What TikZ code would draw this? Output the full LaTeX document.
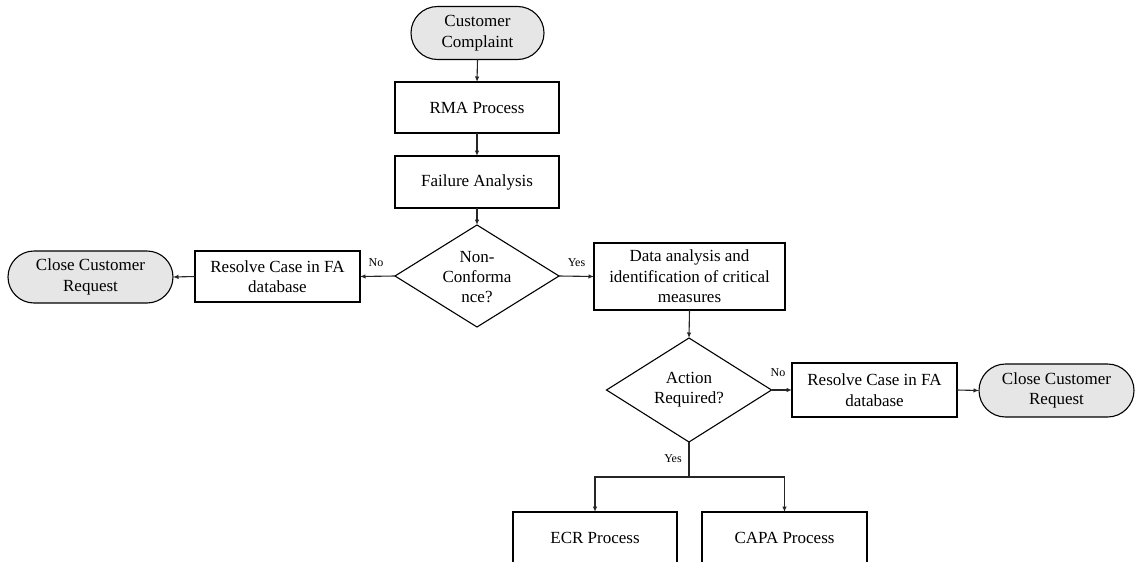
\documentclass[tikz,border=0pt]{standalone}
\usepackage{fontspec}
\setmainfont{Liberation Serif}
\usetikzlibrary{shapes.misc,shapes.geometric,arrows.meta}

\definecolor{termfill}{HTML}{E6E6E6}

\tikzset{
  base/.style={draw=black, line width=1.1pt, inner sep=0pt, outer sep=0pt,
    align=center, font=\fontsize{17}{20.5}\selectfont},
  procbox/.style={base, rectangle},
  terminal/.style={base, rounded rectangle, fill=termfill},
  decision/.style={draw=black, line width=1.1pt, diamond, inner sep=0pt, outer sep=0pt},
  dectext/.style={align=center, inner sep=0pt, font=\fontsize{17}{20}\selectfont},
  arr/.style={draw=black!85, line width=1.1pt, -{Latex[length=5.5pt,width=4.5pt]}},
  plain/.style={draw=black!85, line width=1.1pt},
  lbl/.style={font=\fontsize{12}{14}\selectfont, inner sep=0pt}
}

\begin{document}
\begin{tikzpicture}[x=1pt, y=-1pt]
\useasboundingbox (0,0) rectangle (1135,562);
\clip (0,0) rectangle (1135,562);

% main column
\node[terminal, minimum width=133pt, minimum height=53pt] (start) at (477.5,33) {Customer\\Complaint};
\node[procbox, minimum width=164pt, minimum height=51pt] (rma) at (477,107.5) {RMA Process};
\node[procbox, minimum width=164pt, minimum height=52pt] (fa) at (477,182) {Failure Analysis};
\node[decision, minimum width=164pt, minimum height=102pt] (d1) at (477,276) {};
\node[dectext] (d1t) at (477,277) {Non-\\Conforma\\nce?};

% left branch
\node[procbox, minimum width=165pt, minimum height=51pt] (resL) at (277.5,276.5) {Resolve Case in FA\\database};
\node[terminal, minimum width=165pt, minimum height=52pt] (closeL) at (90.5,277) {Close Customer\\Request};

% right branch
\node[procbox, minimum width=191pt, minimum height=67pt] (data) at (689.5,276.5) {Data analysis and\\identification of critical\\measures};
\node[decision, minimum width=165pt, minimum height=104pt] (d2) at (689,390) {};
\node[dectext] (d2t) at (689,390) {Action\\Required?};
\node[procbox, minimum width=165pt, minimum height=54pt] (resR) at (874.5,390) {Resolve Case in FA\\database};
\node[terminal, minimum width=155pt, minimum height=53pt] (closeR) at (1056.5,390.5) {Close Customer\\Request};

% follow-up processes
\node[procbox, minimum width=164pt, minimum height=52pt] (ecr) at (595,538) {ECR Process};
\node[procbox, minimum width=165pt, minimum height=52pt] (capa) at (784.5,538) {CAPA Process};
\coordinate (br) at (689,477);

% connectors
\draw[arr] (start.south) -- (rma.north);
\draw[arr] (rma.south) -- (fa.north);
\draw[arr] (fa.south) -- (d1.north);
\draw[arr] (d1.west) -- (resL.east);
\draw[arr] (resL.west) -- (closeL.east);
\draw[arr] (d1.east) -- (data.west);
\draw[arr] (data.south) -- (d2.north);
\draw[arr] (d2.east) -- (resR.west);
\draw[arr] (resR.east) -- (closeR.west);
\draw[plain] (d2.south) -- (br);
\draw[arr] (br) -| (ecr.north);
\draw[arr] (br) -| (capa.north);

% branch labels
\node[lbl] (noL) at (376,263) {No};
\node[lbl] (yesR) at (576.5,263) {Yes};
\node[lbl] (noR) at (778,373) {No};
\node[lbl] (yesB) at (673,459) {Yes};
\end{tikzpicture}
\end{document}
